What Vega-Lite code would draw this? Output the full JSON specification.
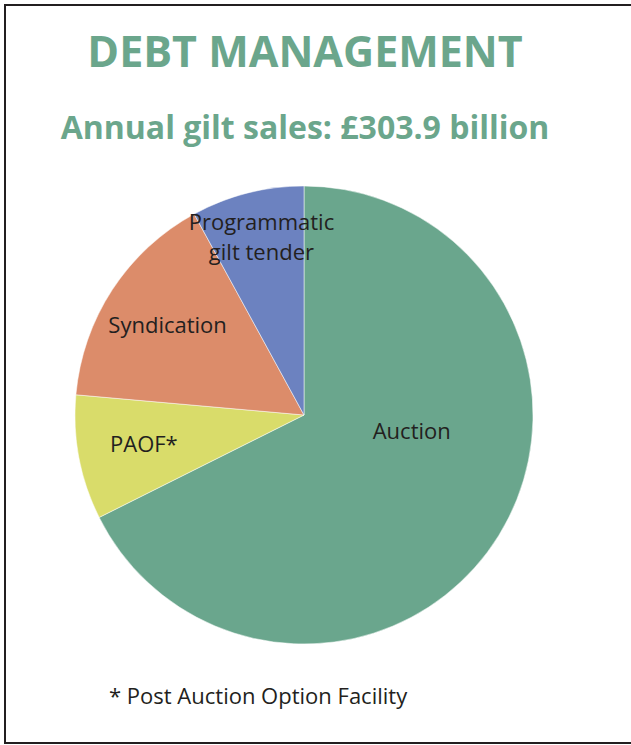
{
  "$schema": "https://vega.github.io/schema/vega-lite/v6.json",
  "width": 630,
  "height": 738,
  "autosize": "none",
  "padding": {"left": 5, "top": 5, "right": 0, "bottom": 2},
  "background": "white",
  "view": {"stroke": "#231f20", "strokeWidth": 2},
  "config": {"view": {"stroke": "#231f20", "strokeWidth": 2}},
  "title": {
    "text": "DEBT MANAGEMENT",
    "subtitle": "Annual gilt sales: £303.9 billion",
    "anchor": "middle",
    "frame": "group",
    "orient": "top",
    "offset": -140,
    "dx": -15,
    "font": "Open Sans",
    "fontSize": 43,
    "fontWeight": "bold",
    "color": "#6ba68c",
    "subtitleFont": "Open Sans",
    "subtitleFontSize": 32,
    "subtitleFontWeight": "bold",
    "subtitleColor": "#6ba68c",
    "subtitlePadding": 38
  },
  "data": {
    "values": [
      {"category": "Auction", "label": "Auction", "value": 205.5, "order": 1},
      {"category": "PAOF", "label": "PAOF*", "value": 26.7, "order": 2},
      {"category": "Syndication", "label": "Syndication", "value": 47.5, "order": 3},
      {"category": "Programmatic gilt tender", "label": "Programmatic\ngilt tender", "value": 24.2, "order": 4}
    ]
  },
  "layer": [
    {
      "mark": {"type": "arc", "outerRadius": 229, "x": {"expr": "width/2 - 16"}, "y": {"expr": "height/2 + 41"}, "stroke": "white", "strokeWidth": 0.5},
      "encoding": {
        "theta": {"field": "value", "type": "quantitative", "stack": true},
        "order": {"field": "order", "type": "quantitative"},
        "color": {
          "field": "category",
          "type": "nominal",
          "scale": {"domain": ["Auction", "PAOF", "Syndication", "Programmatic gilt tender"], "range": ["#6aa68d", "#d9dc6a", "#dc8c6a", "#6c82c0"]},
          "legend": null
        }
      }
    },
    {
      "mark": {"type": "text", "radius": 163, "x": {"expr": "width/2 - 16"}, "y": {"expr": "height/2 + 41"}, "font": "Open Sans", "fontSize": 22, "color": "#231f20"},
      "encoding": {
        "theta": {"field": "value", "type": "quantitative", "stack": true},
        "order": {"field": "order", "type": "quantitative"},
        "text": {"condition": {"test": "datum.category == 'Auction' || datum.category == 'Programmatic gilt tender'", "value": ""}, "field": "label"}
      }
    },
    {
      "mark": {"type": "text", "radius": 172, "dy": -25, "x": {"expr": "width/2 - 16"}, "y": {"expr": "height/2 + 41"}, "font": "Open Sans", "fontSize": 22, "color": "#231f20", "lineBreak": "\n", "lineHeight": 30},
      "encoding": {
        "theta": {"field": "value", "type": "quantitative", "stack": true},
        "order": {"field": "order", "type": "quantitative"},
        "text": {"condition": {"test": "datum.category != 'Programmatic gilt tender'", "value": ""}, "field": "label"}
      }
    },
    {
      "mark": {"type": "text", "radius": 109, "dx": 15, "dy": -40, "x": {"expr": "width/2 - 16"}, "y": {"expr": "height/2 + 41"}, "font": "Open Sans", "fontSize": 22, "color": "#231f20"},
      "encoding": {
        "theta": {"field": "value", "type": "quantitative", "stack": true},
        "order": {"field": "order", "type": "quantitative"},
        "text": {"condition": {"test": "datum.category != 'Auction'", "value": ""}, "field": "label"}
      }
    },
    {
      "data": {"values": [{"note": "* Post Auction Option Facility"}]},
      "mark": {"type": "text", "align": "left", "baseline": "middle", "x": 104, "y": {"expr": "height - 46"}, "font": "Open Sans", "fontSize": 22, "color": "#231f20"},
      "encoding": {"text": {"field": "note"}}
    }
  ]
}
